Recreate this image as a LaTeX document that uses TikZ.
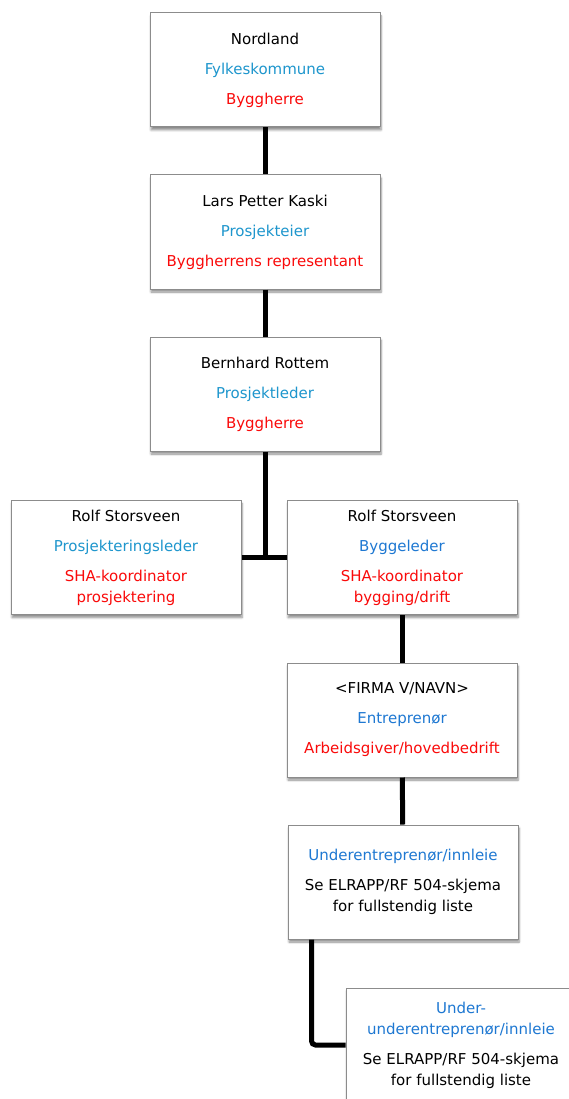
\documentclass[tikz,border=0pt]{standalone}
\usepackage{fontspec}
\setmainfont{DejaVu Sans}
\usetikzlibrary{shadows.blur}
\definecolor{roleblue}{RGB}{30,150,205}
\definecolor{firmblue}{RGB}{30,120,210}
\definecolor{rolered}{RGB}{250,10,10}
\newcommand{\gap}{\\[9pt]}
\tikzset{
  orgbox/.style={draw=black!45,line width=1pt,fill=white,minimum width=230pt,
    minimum height=114pt,align=center,inner sep=0pt,
    font=\fontsize{15}{21}\selectfont,
    blur shadow={shadow xshift=1pt,shadow yshift=-3pt,shadow blur steps=6,shadow opacity=45}},
  orgline/.style={line width=5pt}
}

\begin{document}
\begin{tikzpicture}[x=1pt,y=-1pt]
\useasboundingbox (0,0) rectangle (568,1099);

% Byggherre-siden
\node[orgbox] (fylke) at (265,70) {Nordland\gap
  \textcolor{roleblue}{Fylkeskommune}\gap\textcolor{rolered}{Byggherre}};
\node[orgbox] (eier) at (265,232) {Lars Petter Kaski\gap
  \textcolor{roleblue}{Prosjekteier}\gap\textcolor{rolered}{Byggherrens representant}};
\node[orgbox] (pleder) at (265,394) {Bernhard Rottem\gap
  \textcolor{roleblue}{Prosjektleder}\gap\textcolor{rolered}{Byggherre}};

% SHA-koordinatorer
\node[orgbox] (prosj) at (126,557.5) {Rolf Storsveen\gap
  \textcolor{roleblue}{Prosjekteringsleder}\gap
  \textcolor{rolered}{SHA-koordinator}\\\textcolor{rolered}{prosjektering}};
\node[orgbox] (bygg) at (402,557.5) {Rolf Storsveen\gap
  \textcolor{firmblue}{Byggeleder}\gap
  \textcolor{rolered}{SHA-koordinator}\\\textcolor{rolered}{bygging/drift}};

% Entreprenører
\node[orgbox] (entr) at (402,720) {<FIRMA V/NAVN>\gap
  \textcolor{firmblue}{Entreprenør}\gap\textcolor{rolered}{Arbeidsgiver/hovedbedrift}};
\node[orgbox] (under) at (403,882) {\textcolor{firmblue}{Underentreprenør/innleie}\gap
  Se ELRAPP/RF 504-skjema\\for fullstendig liste};
\node[orgbox] (uunder) at (461,1045) {\textcolor{firmblue}{Under-}\\
  \textcolor{firmblue}{underentreprenør/innleie}\gap
  Se ELRAPP/RF 504-skjema\\for fullstendig liste};

% Linjer
\draw[orgline] (fylke) -- (eier);
\draw[orgline] (eier) -- (pleder);
\draw[orgline] (prosj.east) -- (bygg.west);
\draw[orgline] (pleder.south) -- (pleder.south |- prosj.east);
\draw[orgline] (bygg) -- (entr);
\draw[orgline] (entr) -- (under);
\coordinate (knekk) at ([xshift=24pt]under.south west);
\draw[orgline,rounded corners=4pt] (knekk) |- (uunder.west);

\end{tikzpicture}
\end{document}
